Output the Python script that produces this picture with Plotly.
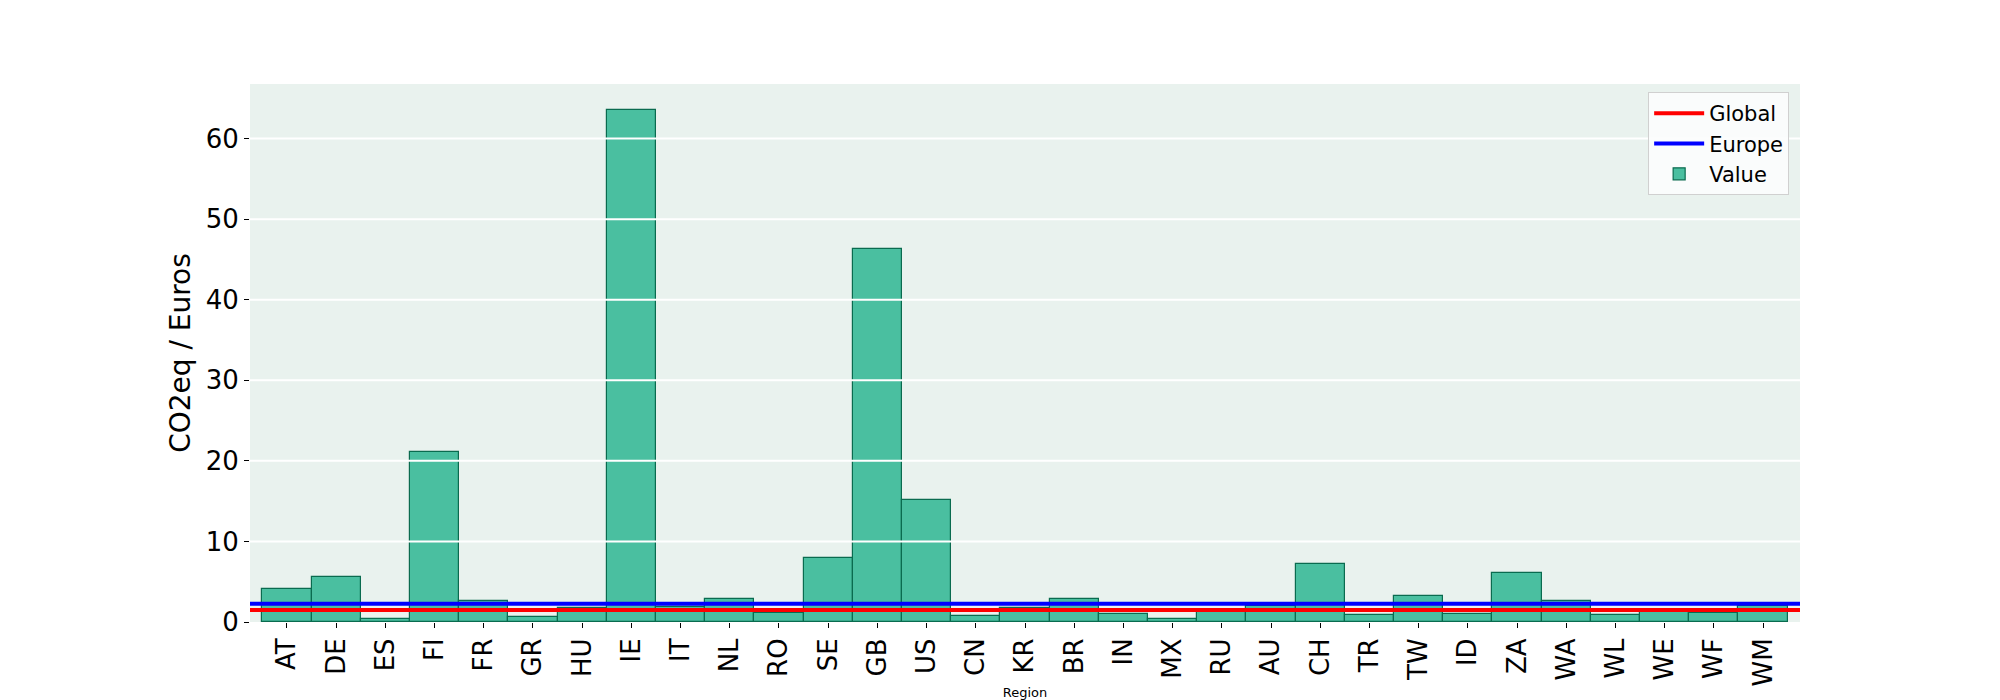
import plotly.graph_objects as go

regions = ["AT", "DE", "ES", "FI", "FR", "GR", "HU", "IE", "IT", "NL", "RO", "SE",
           "GB", "US", "CN", "KR", "BR", "IN", "MX", "RU", "AU", "CH", "TR", "TW",
           "ID", "ZA", "WA", "WL", "WE", "WF", "WM"]
values = [4.15, 5.55, 0.42, 21.05, 2.65, 0.66, 1.8, 63.6, 1.83, 2.9, 1.08, 7.97,
          46.3, 15.1, 0.8, 1.8, 2.9, 1.05, 0.37, 1.5, 2.0, 7.22, 0.83, 3.2,
          0.95, 6.08, 2.55, 0.83, 1.25, 1.17, 2.0]
global_mean = 1.5
europe_mean = 2.25
y_ticks = [0, 10, 20, 30, 40, 50, 60]

font = "DejaVu Sans"
x_pos = list(range(len(regions)))
x_lo, x_hi = -0.75, len(regions) - 0.25
y_hi = max(values) * 1.05

fig = go.Figure()
fig.add_trace(go.Scatter(x=[x_lo, x_hi], y=[global_mean, global_mean], mode="lines",
                         line=dict(color="red", width=4), name="Global"))
fig.add_trace(go.Scatter(x=[x_lo, x_hi], y=[europe_mean, europe_mean], mode="lines",
                         line=dict(color="blue", width=4), name="Europe"))
fig.add_trace(go.Bar(x=x_pos, y=values, width=1, name="Value",
                     marker=dict(color="#4ABFA0", line=dict(color="#0A6B4F", width=1.2))))

# matplotlib-style grid sits on top of the bars
for t in y_ticks[1:]:
    fig.add_shape(type="line", xref="paper", x0=0, x1=1, y0=t, y1=t,
                  line=dict(color="white", width=2), layer="above")

# page body has an 8px margin, so shift everything up/left by that
fig.update_layout(
    width=2000, height=700,
    margin=dict(l=242, r=208, t=76, b=86, autoexpand=False),
    paper_bgcolor="white", plot_bgcolor="#E9F2EE",
    font=dict(family=font, color="black"),
    bargap=0,
    showlegend=True,
    legend=dict(x=0.993, y=0.985, xanchor="right", yanchor="top",
                font=dict(size=21), itemwidth=50, bgcolor="rgba(252,253,253,0.9)",
                bordercolor="#D0D0D0", borderwidth=1, traceorder="normal"),
)
fig.update_xaxes(range=[x_lo, x_hi], tickvals=x_pos, ticktext=regions, tickangle=-90,
                 tickfont=dict(size=26), ticks="outside", ticklen=5, tickcolor="black",
                 showgrid=False, zeroline=False, showline=False,
                 title=dict(text="Region", font=dict(size=13), standoff=2))
fig.update_yaxes(range=[0, y_hi], tickvals=y_ticks, tickfont=dict(size=26),
                 ticks="outside", ticklen=5, tickcolor="black", ticklabelstandoff=0,
                 showgrid=False, zeroline=False, showline=False,
                 title=dict(text="CO2eq / Euros", font=dict(size=28), standoff=6))

fig.write_html("out.html")
